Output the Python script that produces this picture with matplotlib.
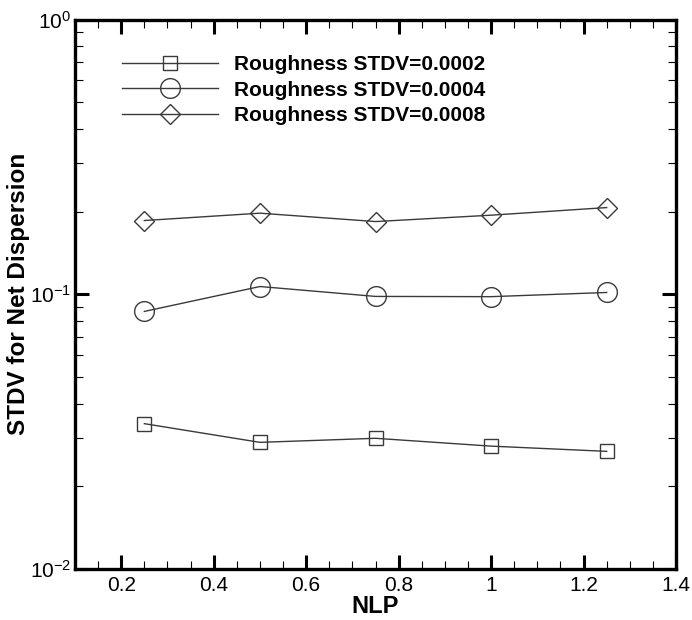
import numpy as np
import matplotlib.pyplot as plt
from matplotlib.ticker import MultipleLocator, LogLocator

plt.rcParams['font.family'] = ['Liberation Sans', 'DejaVu Sans']
plt.rcParams['mathtext.default'] = 'regular'

# data
nlp = [0.25, 0.5, 0.75, 1.0, 1.25]
stdv_0002 = [0.0338, 0.0289, 0.0299, 0.0280, 0.0268]
stdv_0004 = [0.0866, 0.1067, 0.0982, 0.0980, 0.1015]
stdv_0008 = [0.1855, 0.1973, 0.1839, 0.1940, 0.2068]
labels = ['Roughness STDV=0.0002', 'Roughness STDV=0.0004', 'Roughness STDV=0.0008']
xticks = [0.2, 0.4, 0.6, 0.8, 1.0, 1.2, 1.4]
xticklabels = ['0.2', '0.4', '0.6', '0.8', '1', '1.2', '1.4']

fig = plt.figure(figsize=(6.92, 6.20), dpi=100)
ax = fig.add_axes([0.1084, 0.0823, 0.8685, 0.8862])

col = '#3a3a3a'
ax.plot(nlp, stdv_0002, color=col, lw=1.0, marker='s', ms=10.3, mfc='none', mec=col, mew=1.0, label=labels[0])
ax.plot(nlp, stdv_0004, color=col, lw=1.0, marker='o', ms=14.2, mfc='none', mec=col, mew=1.0, label=labels[1])
ax.plot(nlp, stdv_0008, color=col, lw=1.0, marker='D', ms=10.2, mfc='none', mec=col, mew=1.0, label=labels[2])

ax.set_yscale('log')
ax.set_xlim(0.1, 1.4)
ax.set_ylim(0.01, 1)
ax.set_xticks(xticks)
ax.set_xticklabels(xticklabels)
ax.xaxis.set_minor_locator(MultipleLocator(0.05))
ax.yaxis.set_minor_locator(LogLocator(base=10, subs=np.arange(2, 10)))

for s in ax.spines.values():
    s.set_linewidth(2.4)
ax.tick_params(which='major', direction='in', length=10, width=2.2, top=True, right=True,
               labelsize=15, pad=5)
ax.tick_params(axis='y', which='major', pad=3)
ax.tick_params(which='minor', direction='in', length=5.8, width=0.8, top=True, right=True)

ax.set_xlabel('NLP', fontsize=17, fontweight='bold', labelpad=0)
ax.set_ylabel('STDV for Net Dispersion', fontsize=17.5, fontweight='bold')
ax.yaxis.set_label_coords(-0.075, 0.5)

ax.legend(loc='upper left', bbox_to_anchor=(0.064, 0.95), borderaxespad=0, frameon=False,
          prop={'size': 15, 'weight': 'bold'}, handlelength=4.6, handletextpad=0.8,
          labelspacing=0.3)

fig.savefig('out.png', dpi=100)
